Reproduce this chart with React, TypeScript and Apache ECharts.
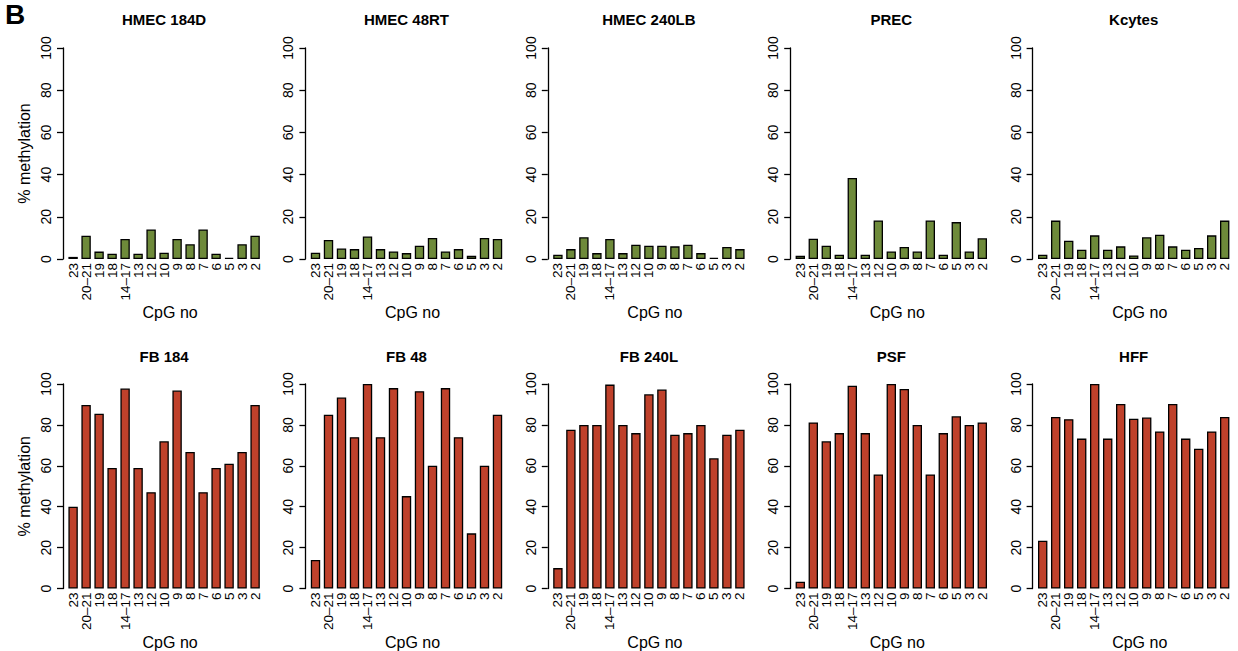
import React, { useEffect, useRef } from 'react';
import * as echarts from 'echarts';

const categories = ['23', '20–21', '19', '18', '14–17', '13', '12', '10', '9', '8', '7', '6', '5', '3', '2'];
const yTicks = [0, 20, 40, 60, 80, 100];

const panelTitles = ['HMEC 184D', 'HMEC 48RT', 'HMEC 240LB', 'PREC', 'Kcytes', 'FB 184', 'FB 48', 'FB 240L', 'PSF', 'HFF'];

const hmec184D = [1, 11, 3.5, 2.5, 9.5, 2.5, 14, 3, 9.5, 7, 14, 2.5, 0.5, 7, 11];
const hmec48RT = [3, 9, 5, 4.7, 10.7, 4.7, 3.6, 2.8, 6.3, 10, 3.6, 4.7, 1.5, 10, 9.5];
const hmec240LB = [2, 4.7, 10.3, 2.8, 9.5, 2.8, 6.8, 6.3, 6.3, 6, 6.8, 2.8, 0.5, 5.7, 4.7];
const prec = [1.5, 9.6, 6.3, 2, 38.4, 2, 18.3, 3.6, 5.7, 3.6, 18.3, 2, 17.5, 3.6, 9.8];
const kcytes = [2, 18.2, 8.7, 4.4, 11.2, 4.4, 6, 1.7, 10.3, 11.5, 6, 4.4, 5.2, 11.2, 18.2];
const fb184 = [40, 89.7, 85.5, 58.9, 97.8, 58.9, 47.1, 72, 96.8, 66.8, 47.1, 58.9, 61, 66.8, 89.7];
const fb48 = [14, 85, 93.4, 74, 100, 74, 98, 45.2, 96.5, 60, 98, 74, 27, 60, 85];
const fb240L = [10, 77.6, 80, 80, 99.7, 80, 76, 95, 97.3, 75.2, 76, 80, 63.7, 75.2, 77.6];
const psf = [3.3, 81.2, 72, 76, 99.2, 76, 55.8, 100, 97.6, 80, 55.8, 76, 84.2, 80, 81.2];
const hff = [23.4, 83.9, 82.8, 73.3, 100, 73.3, 90.2, 83, 83.6, 76.8, 90.2, 73.3, 68.4, 76.8, 83.9];

const panelData = [hmec184D, hmec48RT, hmec240LB, prec, kcytes, fb184, fb48, fb240L, psf, hff];

const GREEN = '#6E8A3A';
const RED = '#BF412B';
const FONT = "'Liberation Sans', Arial, Helvetica, sans-serif";

export default function App() {
  const ref = useRef<HTMLDivElement>(null);
  useEffect(() => {
    document.body.style.margin = '0';
    const chart = echarts.init(ref.current as HTMLDivElement, null, { renderer: 'svg' });
    const left0 = 66.6;
    const step = 242.4;
    const width = 195;
    const tops = [48, 384];
    const height = 211;
    const titleTops = [12, 349];

    const grids: any[] = [];
    const xAxes: any[] = [];
    const yAxes: any[] = [];
    const series: any[] = [];
    const titles: any[] = [];

    panelData.forEach((vals, i) => {
      const row = Math.floor(i / 5);
      const col = i % 5;
      const left = left0 + step * col;
      grids.push({ left, top: tops[row], width, height, containLabel: false });
      titles.push({
        text: panelTitles[i],
        left: left + width / 2,
        top: titleTops[row],
        textAlign: 'center',
        padding: 0,
        textStyle: { fontFamily: FONT, fontSize: 15, fontWeight: 'bold', color: '#000' },
      });
      xAxes.push({
        type: 'category',
        gridIndex: i,
        data: categories,
        boundaryGap: true,
        axisLine: { show: false },
        axisTick: { show: false },
        axisLabel: { interval: 0, rotate: 90, fontSize: 13.5, color: '#000', margin: 4, fontFamily: FONT },
        name: 'CpG no',
        nameLocation: 'middle',
        nameGap: 38,
        nameTextStyle: { fontSize: 16, color: '#000', fontFamily: FONT, padding: [0, 0, 0, 12] },
      });
      yAxes.push({
        type: 'value',
        gridIndex: i,
        min: yTicks[0],
        max: yTicks[yTicks.length - 1],
        interval: 20,
        offset: 3.6,
        axisLine: { show: true, lineStyle: { color: '#000', width: 1.3 } },
        axisTick: { show: true, length: 6, lineStyle: { color: '#000', width: 1.3 } },
        splitLine: { show: false },
        axisLabel: { rotate: 90, fontSize: 14, color: '#000', margin: 10, fontFamily: FONT },
        name: col === 0 ? '% methylation' : '',
        nameLocation: 'middle',
        nameGap: 31,
        nameTextStyle: { fontSize: 16, color: '#000', fontFamily: FONT },
      });
      series.push({
        type: 'bar',
        xAxisIndex: i,
        yAxisIndex: i,
        data: vals,
        barWidth: 9.4,
        itemStyle: { color: row === 0 ? GREEN : RED, borderColor: '#000', borderWidth: 1.3 },
        silent: true,
      });
    });

    chart.setOption({
      animation: false,
      backgroundColor: '#fff',
      title: titles,
      grid: grids,
      xAxis: xAxes,
      yAxis: yAxes,
      series,
      graphic: [
        {
          type: 'text',
          left: 5,
          top: 0,
          style: { text: 'B', font: `bold 28px ${FONT}`, fill: '#000' },
        },
      ],
    });
    return () => chart.dispose();
  }, []);
  return <div ref={ref} style={{ width: 1238, height: 651, position: 'absolute', left: 0, top: 0 }} />;
}
